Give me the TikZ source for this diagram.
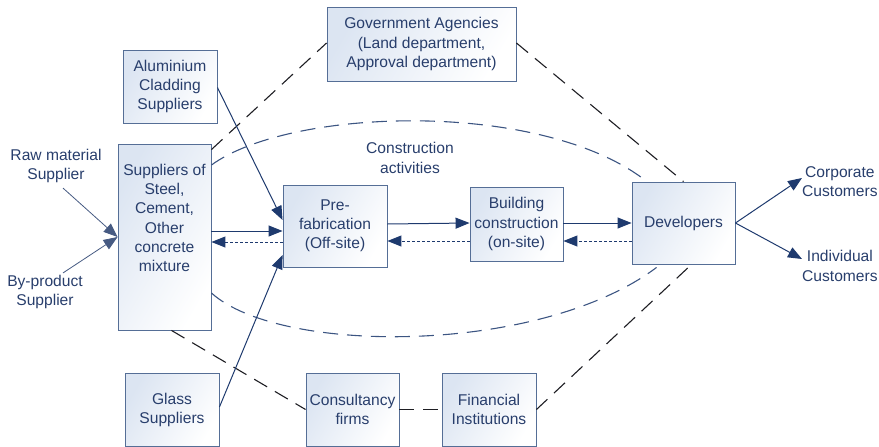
\documentclass[tikz,border=0pt]{standalone}
\usepackage{fontspec}
\setmainfont{Liberation Sans}
\usetikzlibrary{arrows.meta,calc}
\definecolor{txt}{RGB}{40,62,108}
\definecolor{bord}{RGB}{85,110,150}
\definecolor{arr}{RGB}{30,58,110}
\definecolor{thin}{RGB}{70,90,130}
\definecolor{dashblue}{RGB}{60,85,130}
\definecolor{dashblack}{RGB}{30,30,35}
\definecolor{fillb}{RGB}{220,229,242}
\begin{document}
\begin{tikzpicture}[x=1pt,y=-1pt,
  font=\fontsize{15.6}{19.2}\selectfont,
  box/.style={draw=bord, line width=0.9pt, left color=fillb, right color=white, shading angle=60, text=txt, align=center, inner sep=0pt},
  lbl/.style={text=txt, align=center, inner sep=0pt},
  tip/.style={-{Triangle[length=14pt,width=11pt]}},
  flow/.style={draw=arr, line width=1pt, tip},
  thinflow/.style={draw=thin, line width=0.8pt, tip},
  back/.style={draw=arr, line width=1pt, dash pattern=on 3pt off 2pt, tip},
  link/.style={draw=dashblack, line width=1.1pt, dash pattern=on 15pt off 9pt},
  arcline/.style={draw=dashblue, line width=1.1pt, dash pattern=on 15pt off 9pt}
]
\useasboundingbox (0,0) rectangle (879,447);

% boxes
\node[box, minimum width=94pt, minimum height=73pt] (alu) at (170,86.5) {Aluminium\\Cladding\\Suppliers};
\node[box, minimum width=93pt, minimum height=186pt] (sup) at (164.5,237) {};
\node[lbl] (supt) at (164.5,218) {Suppliers of\\Steel,\\Cement,\\Other\\concrete\\mixture};
\node[box, minimum width=94pt, minimum height=73pt] (glass) at (172,410) {Glass\\Suppliers};
\node[box, minimum width=189pt, minimum height=74pt] (gov) at (421.5,44) {Government Agencies\\(Land department,\\Approval department)};
\node[box, minimum width=104pt, minimum height=82pt] (pre) at (335,226) {Pre-\\fabrication\\(Off-site)};
\node[box, minimum width=93pt, minimum height=74pt] (bld) at (516.5,224) {Building\\construction\\(on-site)};
\node[box, minimum width=103pt, minimum height=82pt] (dev) at (683.5,223) {Developers};
\node[box, minimum width=93pt, minimum height=73pt] (cons) at (352.5,409.5) {Consultancy\\firms};
\node[box, minimum width=94pt, minimum height=73pt] (fin) at (489,409.5) {Financial\\Institutions};

% free labels
\node[lbl] (raw) at (56,166) {Raw material\\Supplier};
\node[lbl] (byp) at (45,292) {By-product\\Supplier};
\node[lbl, anchor=west] (corp) at (802,182) {Corporate\\Customers};
\node[lbl, anchor=west] (ind) at (802,266) {Individual\\Customers};
\node[lbl] (act) at (410,158) {Construction\\activities};

% dashed relations (black)
\draw[link] ([yshift=-6pt]sup.north east) -- ([yshift=1pt]gov.west);
\draw[link] ([yshift=1pt]gov.east) -- (dev.north);
\draw[link] ([xshift=7pt]sup.south) -- (cons.west);
\draw[link] (cons.east) -- (fin.west);
\draw[link] (fin.east) -- ([xshift=8pt]dev.south);

% construction activities arcs (blue dashed)
\draw[arcline] (sup.east |- 0,165) .. controls (290,108) and (535,100) .. ([xshift=10pt,yshift=4pt]dev.north west);
\draw[arcline] (sup.east |- 0,293) .. controls (280,355) and (540,355) .. ([xshift=25pt,yshift=-3pt]dev.south west);

% inputs
\draw[thinflow] ([xshift=7pt,yshift=-5pt]raw.south) -- (sup.west |- 0,237);
\draw[thinflow] ([xshift=18pt,yshift=2pt]byp.north) -- (sup.west |- 0,237);
\draw[flow] ([yshift=-1pt]alu.east) -- (pre.west |- 0,220);
\draw[flow] ([yshift=3pt]glass.east) -- (pre.west |- 0,255);

% main chain
\draw[flow] (sup.east |- 0,231) -- (pre.west |- 0,231);
\draw[back] (pre.west |- 0,242) -- (sup.east |- 0,242);
\draw[flow] (pre.east |- 0,224) -- (bld.west |- 0,223);
\draw[back] (bld.west |- 0,241) -- (pre.east |- 0,241);
\draw[flow] (bld.east |- 0,223) -- (dev.west |- 0,223);
\draw[back] (dev.west |- 0,241) -- (bld.east |- 0,241);

% outputs
\draw[flow] (dev.east) -- ([yshift=4pt]corp.west);
\draw[flow] (dev.east) -- ([yshift=7pt]ind.west);
\end{tikzpicture}
\end{document}
